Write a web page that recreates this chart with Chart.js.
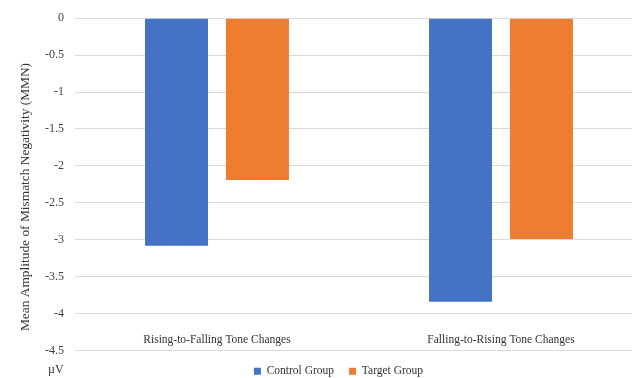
<!DOCTYPE html>
<html>
<head>
<meta charset="utf-8">
<script src="https://cdn.jsdelivr.net/npm/chart.js@4/dist/chart.umd.min.js"></script>
<style>
  html, body { margin: 0; padding: 0; background: #ffffff; overflow: hidden; }
  #wrap { width: 632px; height: 378px; overflow: hidden; position: relative; }
  canvas { display: block; }
</style>
</head>
<body>
<div id="wrap"><canvas id="mmn" width="688" height="378"></canvas></div>
<script>
// Tone-change conditions along the category axis
const categories = ['Rising-to-Falling Tone Changes', 'Falling-to-Rising Tone Changes'];
// Mean MMN amplitude (µV) per group
const controlGroup = [-3.08, -3.84];
const targetGroup = [-2.19, -2.99];
const seriesNames = ['Control Group', 'Target Group'];
const yTitle = 'Mean Amplitude of Mismatch Negativity (MMN)';
const unitLabel = 'µV';

const serif = '"Liberation Serif", "Times New Roman", serif';

// Rotated value-axis caption and the unit caption in the lower-left corner
const captions = {
  id: 'captions',
  afterDraw(chart) {
    const ctx = chart.ctx;
    ctx.save();
    ctx.fillStyle = '#333333';
    ctx.textBaseline = 'middle';
    ctx.font = '12px ' + serif;
    ctx.textAlign = 'left';
    ctx.fillText(unitLabel, 48, 370);
    ctx.translate(25, 197);
    ctx.rotate(-Math.PI / 2);
    ctx.textAlign = 'center';
    ctx.font = '13.4px ' + serif;
    ctx.fillText(yTitle, 0, 0);
    ctx.restore();
  }
};

new Chart(document.getElementById('mmn'), {
  type: 'bar',
  data: {
    labels: categories,
    datasets: [
      { label: seriesNames[0], data: controlGroup, backgroundColor: '#4472C4', borderWidth: 0 },
      { label: seriesNames[1], data: targetGroup, backgroundColor: '#ED7D31', borderWidth: 0 }
    ]
  },
  options: {
    responsive: false,
    animation: false,
    layout: { padding: { left: 34, right: 45, top: 12, bottom: -9 } },
    datasets: { bar: { categoryPercentage: 0.57, barPercentage: 0.778 } },
    plugins: {
      legend: {
        position: 'bottom',
        labels: {
          font: { family: serif, size: 11.5 },
          color: '#333333',
          boxWidth: 7,
          boxHeight: 7,
          padding: 15
        }
      },
      tooltip: { enabled: false }
    },
    scales: {
      y: {
        min: -4.5,
        max: 0,
        ticks: {
          stepSize: 0.5,
          font: { family: serif, size: 12 },
          color: '#404040',
          padding: 11,
          callback: (v) => String(v)
        },
        grid: { color: '#d9d9d9', drawTicks: false },
        border: { display: false }
      },
      x: {
        position: { y: -4.2 },
        grid: { display: false, drawTicks: false },
        border: { display: false },
        ticks: {
          font: { family: serif, size: 11.5 },
          color: '#333333',
          padding: 5
        }
      }
    }
  },
  plugins: [captions]
});
</script>
</body>
</html>
